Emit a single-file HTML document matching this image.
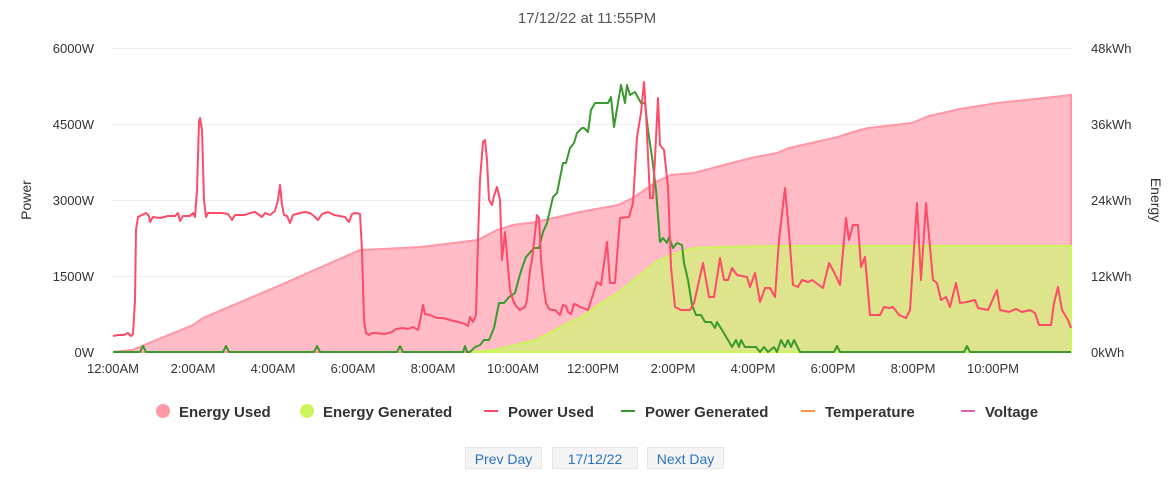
<!DOCTYPE html>
<html><head><meta charset="utf-8"><style>
body{margin:0;background:#fff;width:1175px;height:479px;overflow:hidden;font-family:"Liberation Sans",sans-serif}
.btn{position:absolute;top:447px;height:22px;background:#f4f4f4;border:1px solid #e4e4e4;color:#2a72c0;font-size:14px;line-height:22px;text-align:center;box-sizing:border-box}
</style></head><body>
<svg width="1175" height="440" style="position:absolute;left:0;top:0" font-family="Liberation Sans, sans-serif">
<text x="587" y="23" text-anchor="middle" font-size="15" fill="#555">17/12/22 at 11:55PM</text>
<g stroke="#ececec" stroke-width="1">
<line x1="113" x2="1072" y1="48.5" y2="48.5"/><line x1="113" x2="1072" y1="124.5" y2="124.5"/><line x1="113" x2="1072" y1="200.5" y2="200.5"/><line x1="113" x2="1072" y1="276.5" y2="276.5"/>
</g>
<g font-size="13" fill="#333" text-anchor="end">
<text x="94" y="53">6000W</text><text x="94" y="129">4500W</text><text x="94" y="205">3000W</text><text x="94" y="281">1500W</text><text x="94" y="357">0W</text>
</g>
<g font-size="13" fill="#333" text-anchor="start">
<text x="1091" y="53">48kWh</text><text x="1091" y="129">36kWh</text><text x="1091" y="205">24kWh</text><text x="1091" y="281">12kWh</text><text x="1091" y="357">0kWh</text>
</g>
<text transform="translate(31,200) rotate(-90)" text-anchor="middle" font-size="14" fill="#333">Power</text>
<text transform="translate(1151,200) rotate(90)" text-anchor="middle" font-size="14" fill="#333">Energy</text>
<g font-size="13" fill="#333" text-anchor="middle">
<text x="113" y="373">12:00AM</text><text x="193" y="373">2:00AM</text><text x="273" y="373">4:00AM</text><text x="353" y="373">6:00AM</text><text x="433" y="373">8:00AM</text><text x="513" y="373">10:00AM</text><text x="593" y="373">12:00PM</text><text x="673" y="373">2:00PM</text><text x="753" y="373">4:00PM</text><text x="833" y="373">6:00PM</text><text x="913" y="373">8:00PM</text><text x="993" y="373">10:00PM</text>
</g>
<path d="M113,352 L132,350 L193,325 L203,318 L276,287 L360,250 L383,249 L421,247 L478,240 L497,230 L513,225 L536,222 L580,212 L618,205 L633,198 L656,182 L671,175 L694,173 L724,165 L751,158 L777,153 L789,148 L838,137 L853,132 L868,128 L912,123 L929,116 L960,109 L997,103 L1035,99 L1071,95 L1071,352 Z" fill="#ffbcc6" stroke="#ff95a5" stroke-width="2"/>
<path d="M470,352 L494,350 L536,340 L574,320 L580,318 L600,304 L618,293 L656,262 L671,255 L694,248 L724,247 L770,246 L1071,246 L1071,352 Z" fill="#dde48c" stroke="#ccf55a" stroke-width="2"/>
<polyline fill="none" stroke="#3a9a2e" stroke-width="2" stroke-linejoin="round" points="113,352 140,352 143,346 146,352 223,352 226,346 229,352 314,352 317,346 320,352 397,352 400,346 403,352 463,352 465,346 467,352 470,352 475,347 480,345 484,340 489,340 494,328 499,303 504,303 509,297 515,293 519,278 522,268 526,257 534,248 539,248 543,232 547,223 553,197 557,193 563,163 566,163 570,148 574,143 577,133 582,128 584,128 588,132 591,110 595,103 608,103 611,97 614,127 621,85 625,103 627,85 630,95 635,92 641,103 645,103 648,130 652,157 656,190 660,242 663,238 667,243 669,237 673,248 677,243 682,245 684,263 688,280 692,305 696,315 701,315 705,322 711,322 715,328 717,322 722,330 728,340 732,347 736,340 739,347 741,340 745,347 756,347 760,352 764,347 768,352 774,347 777,352 781,340 785,347 788,340 791,347 794,340 800,352 834,352 837,346 840,352 964,352 967,346 970,352 1071,352"/>
<polyline fill="none" stroke="#ff4b68" stroke-width="2" stroke-linejoin="round" points="113,336 118,335 124,335 128,333 131,336 133,334 135,300 136,230 138,217 142,215 146,213 149,216 150,222 153,217 160,218 168,216 175,216 178,213 180,221 183,216 190,216 193,213 195,217 197,190 199,122 200,118 202,130 204,200 206,217 208,213 215,213 222,213 228,214 232,220 235,215 245,215 250,213 255,212 262,217 265,213 270,215 275,211 278,200 280,185 282,205 284,215 287,216 290,223 293,215 300,213 305,212 310,213 315,217 318,220 322,214 328,212 334,215 345,217 349,222 352,214 356,213 360,214 362,250 364,320 366,333 369,335 372,333 375,333 385,334 392,332 396,329 403,328 408,329 413,327 418,330 421,316 423,305 425,314 430,315 437,318 443,318 450,320 458,322 465,324 468,326 470,317 473,322 476,315 478,240 480,180 483,142 485,140 487,160 489,200 492,205 494,196 497,187 500,200 502,260 505,232 507,255 510,290 513,300 516,306 520,310 525,307 527,300 530,270 532,260 534,242 537,215 539,218 541,260 544,290 546,303 549,309 552,310 555,310 560,315 563,305 566,306 568,312 571,314 574,304 577,305 580,307 588,310 597,282 601,285 607,242 610,283 615,283 620,218 629,217 633,203 637,137 641,113 644,82 646,113 650,198 653,198 658,98 660,145 664,150 668,187 671,267 675,307 681,310 690,310 694,303 703,263 709,297 714,297 720,258 724,280 728,280 732,268 737,275 747,277 750,287 755,273 760,302 765,288 770,288 775,297 779,240 785,188 789,233 793,285 798,287 802,280 808,282 812,280 823,288 829,263 834,272 840,285 846,218 849,240 853,225 858,225 861,267 865,257 870,315 880,315 884,307 889,308 893,307 899,315 906,318 910,310 917,203 921,280 926,203 933,280 937,283 941,300 946,297 950,307 956,283 960,303 967,302 975,300 978,308 988,310 997,290 1000,310 1009,312 1016,309 1022,312 1030,310 1035,313 1039,325 1051,325 1054,303 1058,287 1062,310 1068,320 1071,328"/>
<g font-size="15" font-weight="bold" fill="#333">
<circle cx="163" cy="411" r="7" fill="#ff9aa6"/><text x="179" y="417">Energy Used</text>
<circle cx="307" cy="411" r="7" fill="#ccf55a"/><text x="323" y="417">Energy Generated</text>
<line x1="484" x2="498" y1="411" y2="411" stroke="#ff4b68" stroke-width="2"/><text x="508" y="417">Power Used</text>
<line x1="621" x2="635" y1="411" y2="411" stroke="#3a9a2e" stroke-width="2"/><text x="645" y="417">Power Generated</text>
<line x1="801" x2="815" y1="411" y2="411" stroke="#ff9040" stroke-width="2"/><text x="825" y="417">Temperature</text>
<line x1="961" x2="975" y1="411" y2="411" stroke="#e060b0" stroke-width="2"/><text x="985" y="417">Voltage</text>
</g>
</svg>
<div class="btn" style="left:465px;width:77px">Prev Day</div>
<div class="btn" style="left:552px;width:86px">17/12/22</div>
<div class="btn" style="left:647px;width:77px">Next Day</div>
</body></html>
